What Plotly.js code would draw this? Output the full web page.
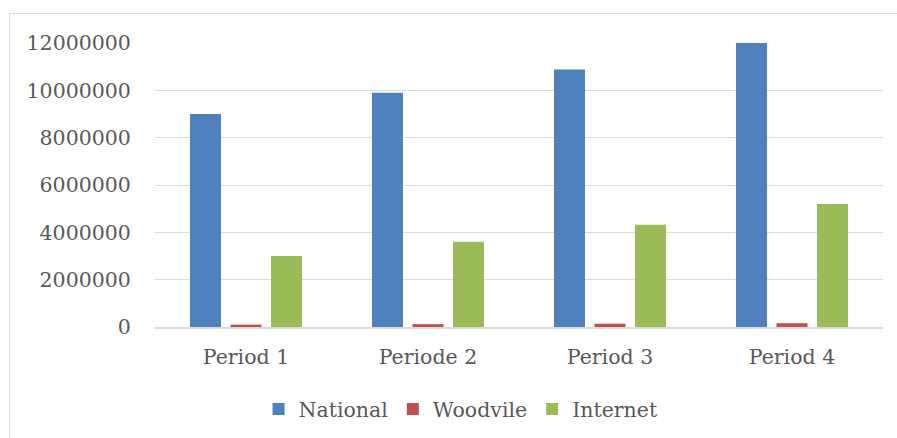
<!DOCTYPE html>
<html>
<head>
<meta charset="utf-8">
<script src="https://cdn.plot.ly/plotly-3.0.1.min.js"></script>
<style>
html,body{margin:0;padding:0;background:#fff;}
#wrap{position:relative;width:897px;height:438px;overflow:hidden;}
#chart{position:absolute;left:0;top:0;width:897px;height:438px;}
#frame{position:absolute;left:9px;top:13px;width:900px;height:440px;border:1.5px solid #d9d9d9;pointer-events:none;box-sizing:border-box;}
</style>
</head>
<body>
<div id="wrap"><div id="chart"></div><div id="frame"></div></div>
<script>
const categories = ["Period 1", "Periode 2", "Period 3", "Period 4"];
const seriesNames = ["National", "Woodvile", "Internet"];
const national = [9000000, 9900000, 10880000, 12000000];
const woodvile = [100000, 120000, 140000, 160000];
const internet = [3000000, 3600000, 4320000, 5200000];
const yTicks = [0, 2000000, 4000000, 6000000, 8000000, 10000000, 12000000];

const colors = ["#4F81BD", "#C0504D", "#9BBB59"];
const values = [national, woodvile, internet];
const font = {family: "DejaVu Serif", size: 20.5, color: "#595959"};

const traces = values.map((v, i) => ({
  type: "bar",
  name: seriesNames[i],
  x: categories,
  y: v,
  marker: {color: colors[i]},
  hoverinfo: "x+y+name"
}));

const layout = {
  width: 897, height: 438,
  margin: {l: 155, r: 14, t: 43, b: 111},
  paper_bgcolor: "rgba(0,0,0,0)",
  plot_bgcolor: "rgba(0,0,0,0)",
  font: font,
  barmode: "group",
  bargap: 0.332,
  bargroupgap: 0.235,
  showlegend: true,
  legend: {
    orientation: "h", xref: "container", yref: "container",
    x: 0.514, xanchor: "center", y: 0.066, yanchor: "middle",
    font: font, traceorder: "normal", itemwidth: 30
  },
  xaxis: {
    type: "category",
    showgrid: false,
    showline: true, linecolor: "#d9d9d9", linewidth: 1.5,
    ticks: "outside", ticklen: 11, tickcolor: "rgba(0,0,0,0)",
    tickfont: font, fixedrange: true
  },
  yaxis: {
    range: [0, 12000000],
    tickvals: yTicks,
    ticktext: yTicks.map(v => String(v)),
    showgrid: true, gridcolor: "#d9d9d9", gridwidth: 1,
    zeroline: false, showline: false,
    ticks: "outside", ticklen: 19, tickcolor: "rgba(0,0,0,0)",
    tickfont: font, fixedrange: true
  }
};

Plotly.newPlot("chart", traces, layout, {displayModeBar: false, staticPlot: true});
</script>
</body>
</html>
